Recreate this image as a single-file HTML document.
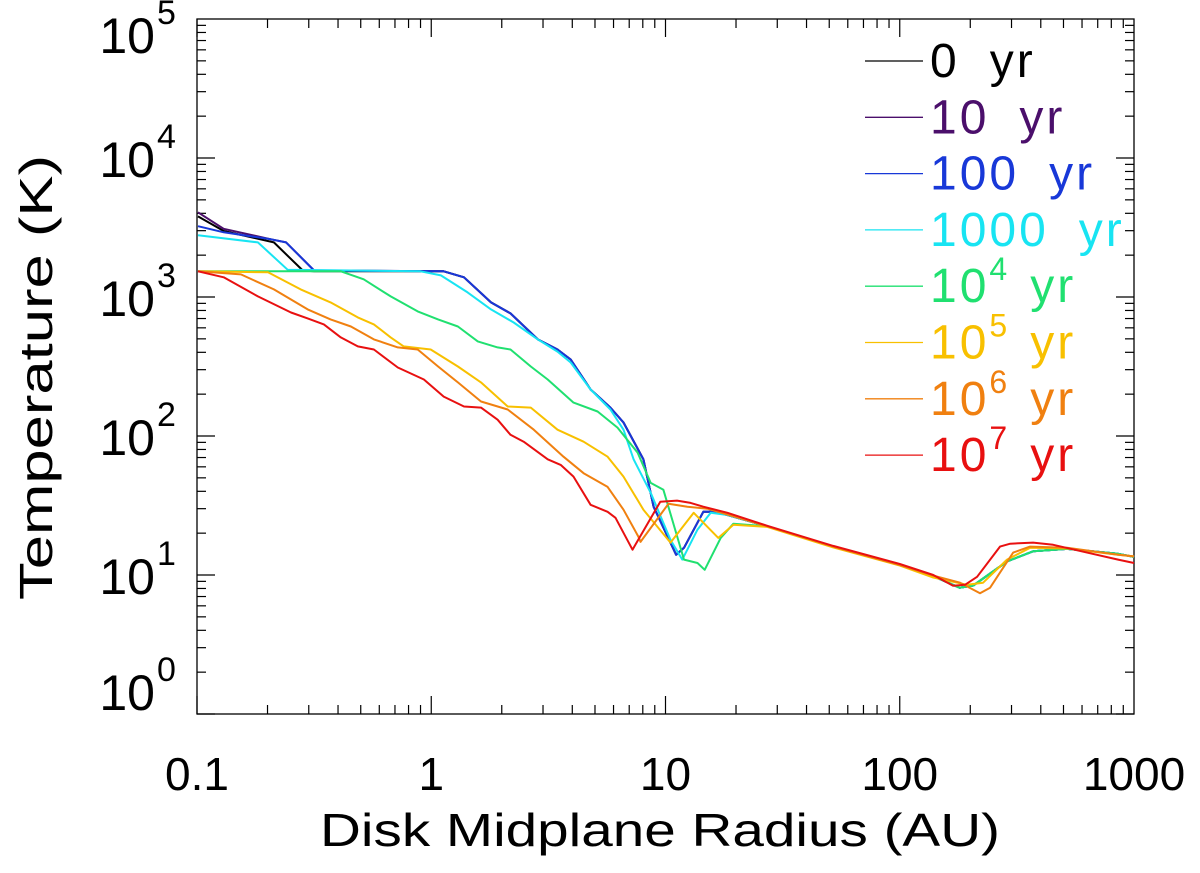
<!DOCTYPE html>
<html><head><meta charset="utf-8"><style>
html,body{margin:0;padding:0;background:#fff;}
svg{display:block;font-family:"Liberation Sans","DejaVu Sans",sans-serif;}
</style></head><body>
<svg id="chart" width="1200" height="873" viewBox="0 0 1200 873" xmlns="http://www.w3.org/2000/svg">
<g id="axes"></g>
<g id="series"></g>
<g id="legend"></g>
<text x="320" y="846" font-size="46" textLength="680" lengthAdjust="spacingAndGlyphs" fill="#000">Disk Midplane Radius (AU)</text>
<text transform="translate(52,600) rotate(-90)" font-size="46" textLength="445" lengthAdjust="spacingAndGlyphs" fill="#000">Temperature (K)</text>
</svg>
<script>
const seriesNames = ["0 yr","10 yr","100 yr","1000 yr","10^4 yr","10^5 yr","10^6 yr","10^7 yr"];
const seriesColors = ["#000000","#4b0f6b","#1838d8","#18e4f2","#20e070","#f8c000","#f08010","#e81010"];
const tail = [[18.4,27],[27.2,22.4],[52,16],[100,11.8],[139,9.8],[180,8.1],[206,8.4],[287,12.5],[371,14.8],[518,15.4],[855,14.2],[1000,13.5]];
const r0 = [0.101,0.13,0.213,0.283,0.316,1.13,1.38,1.8,2.18,2.85,3.46,3.94,4.79,5.82,6.62,8.05,8.9,11.1,12.0,14.5,16.0];
const t0 = [3800,2985,2470,1550,1530,1530,1385,915,762,495,419,355,216,160,125,68,31,14.0,15.7,28.5,28.5];
const r1 = [0.101,0.13,0.207,0.24,0.316,1.13,1.38,1.8,2.18,2.85,3.46,3.94,4.79,5.82,6.62,8.05,8.9,11.1,12.0,14.5,16.0];
const t1 = [4070,3090,2600,2470,1550,1530,1385,915,762,495,419,355,216,160,125,68,31,14.0,15.7,28.5,28.5];
const r2 = [0.101,0.13,0.207,0.24,0.316,1.13,1.38,1.8,2.18,2.85,3.46,3.94,4.79,5.82,6.62,8.05,8.9,11.1,12.0,14.5,16.0];
const t2 = [3230,2920,2600,2470,1550,1530,1385,915,762,495,419,355,216,160,125,68,31,14.0,15.7,28.5,28.5];
const r3 = [0.101,0.182,0.244,0.9,1.1,1.43,1.8,2.25,2.85,3.46,3.94,4.79,5.82,6.62,7.31,8.65,10.5,11.8,13.7,15.6];
const t3 = [2780,2470,1570,1530,1430,1080,814,656,495,405,338,216,155,111,68,39,17.9,12.9,21.2,28];
const r4 = [0.101,0.411,0.515,0.671,0.875,1.07,1.3,1.58,1.92,2.18,2.66,3.14,4.05,5.13,6.24,7.6,8.65,9.8,12.0,13.7,14.7,17.2,19.5];
const t4 = [1530,1530,1340,1010,788,690,613,479,434,419,316,255,174,150,115,76,46,41,12.9,12.2,10.9,18.5,23.4];
const r5 = [0.101,0.201,0.277,0.372,0.486,0.569,0.671,0.763,0.995,1.3,1.63,2.12,2.66,3.46,4.47,5.66,6.62,8.05,10.5,13.2,16.8,19.5];
const t5 = [1530,1505,1135,915,713,635,512,441,419,316,243,163,160,111,91,71,51,29.5,17.1,28,18.5,23];
const r6 = [0.101,0.154,0.213,0.297,0.372,0.454,0.569,0.72,0.875,1.07,1.3,1.63,2.12,2.74,3.67,4.47,5.66,6.62,7.67,7.82,10.3,12.4,15.1];
const t6 = [1530,1455,1135,814,690,613,495,434,419,316,243,177,155,111,71,54,43,29.5,18.8,17.3,32.6,31,30];
const r7 = [0.101,0.13,0.182,0.252,0.297,0.348,0.411,0.486,0.569,0.72,0.93,1.13,1.38,1.63,1.92,2.18,2.48,3.14,3.57,4.05,4.79,5.66,6.12,7.23,9.5,11.2,12.8,14.5,18.4];
const t7 = [1530,1385,1010,774,702,635,512,441,419,311,255,192,163,160,131,102,91,68,62,51,32,28.5,25.8,15.2,33.7,34.3,33,31,28];
const tail7 = [[27.2,22.6],[52,16.2],[100,12.0],[139,10.0],[169,8.36],[190,8.5],[214,9.7],[268,16],[296,16.8],[371,17.1],[452,16.5],[607,14.7],[855,12.9],[1000,12.2]];
const tail6 = [[27.2,22.4],[52,16],[100,11.8],[139,9.9],[181,8.8],[220,7.4],[243,8.1],[268,10.4],[305,14.5],[360,16],[518,15.7],[855,14],[1000,13.6]];
const tail5 = [[27.2,22.2],[52,15.8],[100,11.7],[139,9.6],[194,8.5],[227,8.8],[287,12.9],[360,15.7],[518,15.5],[855,14],[1000,13.6]];
const xTicks = ["0.1","1","10","100","1000"];
const yTickExp = ["0","1","2","3","4","5"];

const X0=197, X1=1134, Y0=714, Y1=19;
function xs(r){ return X0 + (Math.log10(r)+1)/4*(X1-X0); }
function ys(t){ return Y0 - Math.log10(t)/5*(Y0-Y1); }
const NS="http://www.w3.org/2000/svg";
function mk(tag, attrs, parent){ const e=document.createElementNS(NS,tag); for(const k in attrs) e.setAttribute(k,attrs[k]); parent.appendChild(e); return e; }

const axes=document.getElementById('axes');
const frame=mk('rect',{x:X0,y:Y1,width:X1-X0,height:Y0-Y1,fill:'none',stroke:'#000','stroke-width':1.3},axes);


for(let d=-1; d<3; d++){
  for(let m=1;m<10;m++){
    const r=m*Math.pow(10,d); const x=xs(r); const L=(m===1)?18:9;
    mk('line',{x1:x,x2:x,y1:Y0,y2:Y0-L,stroke:'#000','stroke-width':1.2},axes);
    mk('line',{x1:x,x2:x,y1:Y1,y2:Y1+L,stroke:'#000','stroke-width':1.2},axes);
  }
}
xTicks.forEach(function(lbl){
  const t=mk('text',{x:xs(parseFloat(lbl)),y:790,'font-size':46,'text-anchor':'middle',fill:'#000'},axes);
  t.textContent=lbl;
  
  
});
for(let d=0; d<5; d++){
  for(let m=1;m<10;m++){
    const v=m*Math.pow(10,d); const y=ys(v); const L=(m===1)?18:9;
    mk('line',{x1:X0,x2:X0+L,y1:y,y2:y,stroke:'#000','stroke-width':1.2},axes);
    mk('line',{x1:X1,x2:X1-L,y1:y,y2:y,stroke:'#000','stroke-width':1.2},axes);
  }
}
yTickExp.forEach(function(e){
  let base=ys(Math.pow(10,parseFloat(e)))+19;
  if(base<53) base=53;
  if(base>710) base=710;
  const t=mk('text',{x:155,y:base,'font-size':50,'text-anchor':'end',fill:'#000'},axes);
  t.textContent='10';
  
  
  const s=mk('text',{x:157,y:base-29,'font-size':34,'text-anchor':'start',fill:'#000'},axes);
  s.textContent=e;
  
  
});

const radii=[r0,r1,r2,r3,r4,r5,r6,r7];
const temps=[t0,t1,t2,t3,t4,t5,t6,t7];
const tails=[tail,tail,tail,tail,tail,tail5,tail6,tail7];
const sg=document.getElementById('series');
for(let i=0;i<8;i++){
  const pts=radii[i].map((r,j)=>[r,temps[i][j]]).concat(tails[i].filter(p=>p[0]>radii[i][radii[i].length-1]));
  const d=pts.map((p,j)=>(j?'L':'M')+xs(p[0]).toFixed(1)+','+ys(p[1]).toFixed(1)).join(' ');
  const p=mk('path',{d:d,fill:'none',stroke:seriesColors[i],'stroke-width':2,'stroke-linejoin':'round'},sg);
  
  
}
const lg=document.getElementById('legend');
seriesNames.forEach(function(n,i){
  const y=61+i*56.3;
  const l=mk('line',{x1:865,x2:923,y1:y,y2:y,stroke:seriesColors[i],'stroke-width':1.3},lg);
  
  
  const t=mk('text',{x:930,y:y+16,'font-size':48,'letter-spacing':3,fill:seriesColors[i]},lg);
  
  
  if(n.indexOf('^')>=0){
    const parts=n.split(' ')[0].split('^');
    const a=document.createElementNS(NS,'tspan'); a.textContent=parts[0]; t.appendChild(a);
    const b=document.createElementNS(NS,'tspan'); b.setAttribute('dy','-22'); b.setAttribute('font-size','32'); b.textContent=parts[1]; t.appendChild(b);
    const c=document.createElementNS(NS,'tspan'); c.setAttribute('dy','22'); c.setAttribute('dx','20'); c.textContent='yr'; t.appendChild(c);
  } else {
    const parts=n.split(' ');
    const a=document.createElementNS(NS,'tspan'); a.textContent=parts[0]; t.appendChild(a);
    const c=document.createElementNS(NS,'tspan'); c.setAttribute('dx','30'); c.textContent=parts[1]; t.appendChild(c);
  }
});
</script>
</body></html>
